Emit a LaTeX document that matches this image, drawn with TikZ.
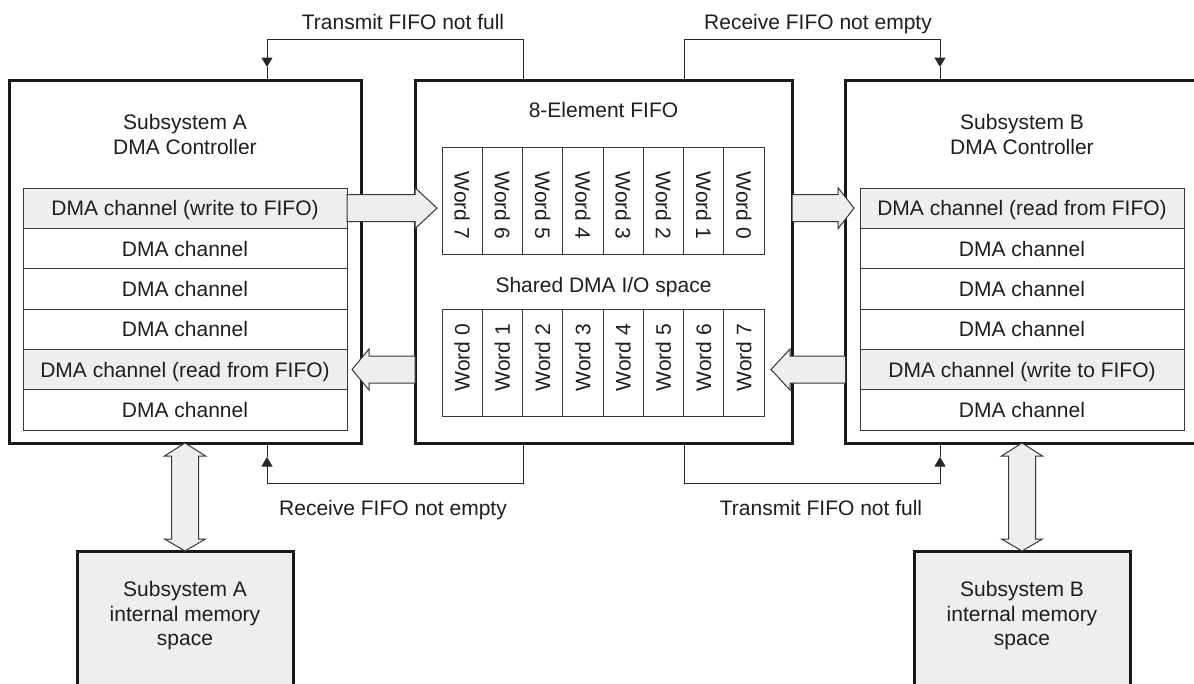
\documentclass[tikz,border=0pt]{standalone}
\usepackage{fontspec}
\setmainfont{Liberation Sans}
\usetikzlibrary{arrows.meta,calc}
\definecolor{lfill}{RGB}{237,238,240}
\definecolor{ink}{RGB}{30,30,30}
\definecolor{edgec}{RGB}{55,55,55}
\newcommand{\hblk}[3]{%
  \draw[blockarrow] ($(#1)+(0,-13.5)$) -- ($(#2)+(0,-13.5)$) -- ($(#2)+(0,-20.5)$) -- (#3)
    -- ($(#2)+(0,20.5)$) -- ($(#2)+(0,13.5)$) -- ($(#1)+(0,13.5)$) -- cycle;}
\newcommand{\vdbl}[2]{%
  \draw[blockarrow] (#1) -- ($(#1)+(20.5,13)$) -- ($(#1)+(13.5,13)$) -- ($(#2)+(13.5,-12)$)
    -- ($(#2)+(20.5,-12)$) -- (#2) -- ($(#2)+(-20.5,-12)$) -- ($(#2)+(-13.5,-12)$)
    -- ($(#1)+(-13.5,13)$) -- ($(#1)+(-20.5,13)$) -- cycle;}
\begin{document}
\begin{tikzpicture}[x=1pt,y=-1pt,
  every node/.style={inner sep=0pt, outer sep=0pt, font=\fontsize{21}{24.5}\selectfont, text=ink},
  txt/.style={align=center},
  one/.style={text height=15pt, text depth=0pt},
  bigbox/.style={draw=black!90, line width=3pt, fill=white, minimum height=363pt},
  chan/.style={one, draw=edgec, line width=1pt, fill=white, minimum width=324pt, minimum height=40.33pt},
  hchan/.style={chan, fill=lfill},
  wordcell/.style={draw=edgec, line width=1pt, minimum width=40.25pt, minimum height=107pt},
  membox/.style={draw=black!90, line width=3pt, fill=lfill, minimum width=216pt, minimum height=150pt},
  blockarrow/.style={draw=edgec, line width=1pt, fill=lfill, line join=miter},
  sig/.style={draw=black!85, line width=1pt},
  sigtip/.style={-{Triangle[length=9.5pt,width=11pt]}}
]
\useasboundingbox (0,0) rectangle (1194,683);

% main boxes
\node[bigbox, minimum width=351.5pt] (A) at (185.25,261.5) {};
\node[bigbox, minimum width=377pt] (F) at (603.5,261.5) {};
\node[bigbox, minimum width=352pt] (B) at (1021.5,261.5) {};

% titles
\node[txt] (Atitle) at (185,134.5) {Subsystem A\\DMA Controller};
\node[txt] (Btitle) at (1022,134.5) {Subsystem B\\DMA Controller};
\node[one] (Ftitle) at (603.5,110) {8-Element FIFO};
\node[one] (Fshared) at (603.5,285) {Shared DMA I/O space};

% channels A
\node[hchan] (A0) at (185,208.17) {DMA channel (write to FIFO)};
\node[chan]  (A1) at (185,248.5)  {DMA channel};
\node[chan]  (A2) at (185,288.83) {DMA channel};
\node[chan]  (A3) at (185,329.17) {DMA channel};
\node[hchan] (A4) at (185,369.5)  {DMA channel (read from FIFO)};
\node[chan]  (A5) at (185,409.83) {DMA channel};
% channels B
\node[hchan] (B0) at (1022,208.17) {DMA channel (read from FIFO)};
\node[chan]  (B1) at (1022,248.5)  {DMA channel};
\node[chan]  (B2) at (1022,288.83) {DMA channel};
\node[chan]  (B3) at (1022,329.17) {DMA channel};
\node[hchan] (B4) at (1022,369.5)  {DMA channel (write to FIFO)};
\node[chan]  (B5) at (1022,409.83) {DMA channel};

% FIFO words
\foreach \k in {0,...,7}{
  \pgfmathsetmacro{\xx}{462.125+40.25*\k}
  \pgfmathtruncatemacro{\nn}{7-\k}
  \node[wordcell] (T\k) at (\xx,200.5) {};
  \node[one, rotate=-90] (Tt\k) at ($(T\k)+(0,5)$) {Word \nn};
  \node[wordcell] (L\k) at (\xx,362.5) {};
  \node[one, rotate=90] (Lt\k) at ($(L\k)+(0,-5)$) {Word \k};
}

% memory boxes
\node[membox] (memA) at (185,626) {};
\node[membox] (memB) at (1022,626) {};
\node[txt] (memAt) at (185,616) {Subsystem A\\internal memory\\space};
\node[txt] (memBt) at (1022,616) {Subsystem B\\internal memory\\space};

% block arrows
\coordinate (a1b) at (F.west |- A0.east);
\coordinate (a1t) at (437,208.17);
\hblk{A0.east}{a1b}{a1t}
\coordinate (a2s) at (F.east |- B0.west);
\coordinate (a2b) at (838,208.17);
\coordinate (a2t) at (854,208.17);
\hblk{a2s}{a2b}{a2t}
\coordinate (a3s) at (F.west |- A4.east);
\coordinate (a3b) at (369,369.5);
\coordinate (a3t) at (352,369.5);
\hblk{a3s}{a3b}{a3t}
\coordinate (a4s) at (B.west |- B4.west);
\coordinate (a4b) at (790,369.5);
\coordinate (a4t) at (771,369.5);
\hblk{a4s}{a4b}{a4t}

% double arrows
\coordinate (dA1) at (memA.north |- A.south);
\coordinate (dB1) at (memB.north |- B.south);
\vdbl{dA1}{memA.north}
\vdbl{dB1}{memB.north}

% signal lines
\coordinate (s1a) at (523,80);  \coordinate (s1c) at (267,39);
\coordinate (s1t) at (267,67);  \coordinate (s1e) at (267,80);
\draw[sig, sigtip] (s1a) |- (s1c) -- (s1t);
\draw[sig] (s1t) -- (s1e);
\coordinate (s2a) at (684,80);  \coordinate (s2c) at (940,39);
\coordinate (s2t) at (940,67);  \coordinate (s2e) at (940,80);
\draw[sig, sigtip] (s2a) |- (s2c) -- (s2t);
\draw[sig] (s2t) -- (s2e);
\coordinate (s3a) at (523,443); \coordinate (s3c) at (267,483);
\coordinate (s3t) at (267,457); \coordinate (s3e) at (267,443);
\draw[sig, sigtip] (s3a) |- (s3c) -- (s3t);
\draw[sig] (s3t) -- (s3e);
\coordinate (s4a) at (684,443); \coordinate (s4c) at (940,483);
\coordinate (s4t) at (940,457); \coordinate (s4e) at (940,443);
\draw[sig, sigtip] (s4a) |- (s4c) -- (s4t);
\draw[sig] (s4t) -- (s4e);

\node[one] (lab1) at (403,22) {Transmit FIFO not full};
\node[one] (lab2) at (818,22) {Receive FIFO not empty};
\node[one] (lab3) at (393,508) {Receive FIFO not empty};
\node[one] (lab4) at (821,508) {Transmit FIFO not full};
\end{tikzpicture}
\end{document}
